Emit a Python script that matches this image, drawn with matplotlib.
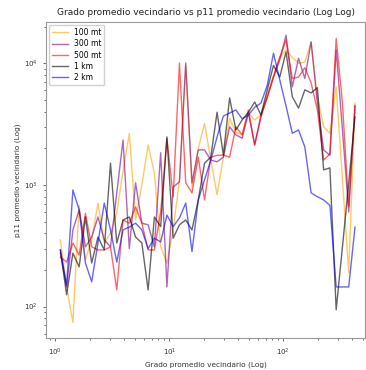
import matplotlib
matplotlib.use("Agg")
import matplotlib.pyplot as plt

# grado promedio (bins, escala log)
grado = [1.107, 1.256, 1.426, 1.618, 1.837, 2.084, 2.366, 2.685, 3.048, 3.459,
         3.926, 4.457, 5.058, 5.741, 6.516, 7.396, 8.395, 9.528, 10.81, 12.27,
         13.93, 15.81, 17.95, 20.37, 23.12, 26.24, 29.79, 33.81, 38.37, 43.55,
         49.43, 56.10, 63.68, 72.28, 82.04, 93.11, 105.7, 120.0, 136.1, 154.5,
         175.4, 199.1, 225.9, 256.4, 291.1, 330.4, 375.0, 425.6]

p11_100mt = [353, 145, 74, 680, 242, 353, 710, 333, 400, 590,
             1300, 2650, 515, 1000, 2130, 1250, 310, 228, 427, 1100,
             9500, 960, 2000, 3200, 1600, 830, 1690, 3530, 2720, 2580,
             3900, 3420, 3750, 5500, 8000, 11200, 12900, 11200, 10000, 10200,
             14900, 5300, 3000, 2650, 6400, 1100, 190, 4700]

p11_300mt = [275, 145, 427, 623, 310, 373, 545, 353, 310, 860,
             2340, 300, 1040, 485, 470, 310, 1840, 145, 960, 1060,
             10050, 1040, 1940, 1940, 1600, 1550, 1690, 3000, 2580, 2420,
             3900, 2130, 3750, 5200, 7700, 10650, 17000, 6400, 11000, 7500,
             15000, 4700, 1940, 1750, 12900, 2830, 600, 4500]

p11_500mt = [255, 232, 333, 265, 585, 310, 292, 292, 310, 137,
             515, 485, 660, 485, 292, 292, 600, 2400, 800, 10050,
             1040, 860, 1690, 753, 1690, 1750, 1760, 1690, 3000, 2580,
             4130, 2130, 3600, 5300, 7700, 11200, 15500, 7500, 7700, 9200,
             6900, 4130, 1600, 1800, 16000, 4700, 660, 4400]

p11_1km = [292, 125, 275, 212, 545, 228, 373, 292, 1510, 333,
           515, 545, 373, 333, 137, 545, 455, 2480, 365, 470,
           515, 427, 753, 1510, 1690, 3960, 1760, 5200, 2830, 3420,
           3960, 4800, 3750, 6040, 9600, 7700, 12400, 5300, 4280, 6040,
           5700, 6300, 1330, 1380, 94, 310, 1040, 3620]

p11_2km = [292, 150, 910, 623, 228, 160, 333, 710, 427, 232,
           427, 450, 485, 427, 300, 365, 340, 565, 455, 535,
           710, 283, 753, 1100, 1600, 2480, 3680, 3900, 4130, 3500,
           3750, 4350, 4700, 6600, 12100, 7300, 4450, 2660, 2830, 2050,
           860, 800, 753, 680, 145, 145, 145, 450]

series = [
    ("100 mt", p11_100mt, "orange"),
    ("300 mt", p11_300mt, "purple"),
    ("500 mt", p11_500mt, "red"),
    ("1 km", p11_1km, "black"),
    ("2 km", p11_2km, "blue"),
]

fig = plt.figure(figsize=(3.66, 3.70), dpi=100)
ax = fig.add_axes([0.126, 0.086, 0.871, 0.855])

for label, vals, color in series:
    ax.plot(grado, vals, color=color, alpha=0.6, linewidth=1.0, label=label)

ax.set_xscale("log")
ax.set_yscale("log")
ax.set_xlim(0.83, 520)
ax.set_ylim(55, 21900)

ax.set_title("Grado promedio vecindario vs p11 promedio vecindario (Log Log)",
             fontsize=6.5, color="#222222", pad=5)
ax.set_xlabel("Grado promedio vecindario (Log)", fontsize=5.3, color="#333333", labelpad=3)
ax.set_ylabel("p11 promedio vecindario (Log)", fontsize=5.3, color="#333333", labelpad=2)
ax.tick_params(labelsize=5, colors="#333333", width=0.5, length=2.5)
ax.tick_params(which="minor", width=0.4, length=1.5)
for s in ax.spines.values():
    s.set_linewidth(0.8)
    s.set_color("#999999")

ax.legend(loc="upper left", fontsize=5.5, handlelength=2.0, labelspacing=0.3,
          borderaxespad=0.4, framealpha=0.9)

fig.savefig("out.png", dpi=100)
